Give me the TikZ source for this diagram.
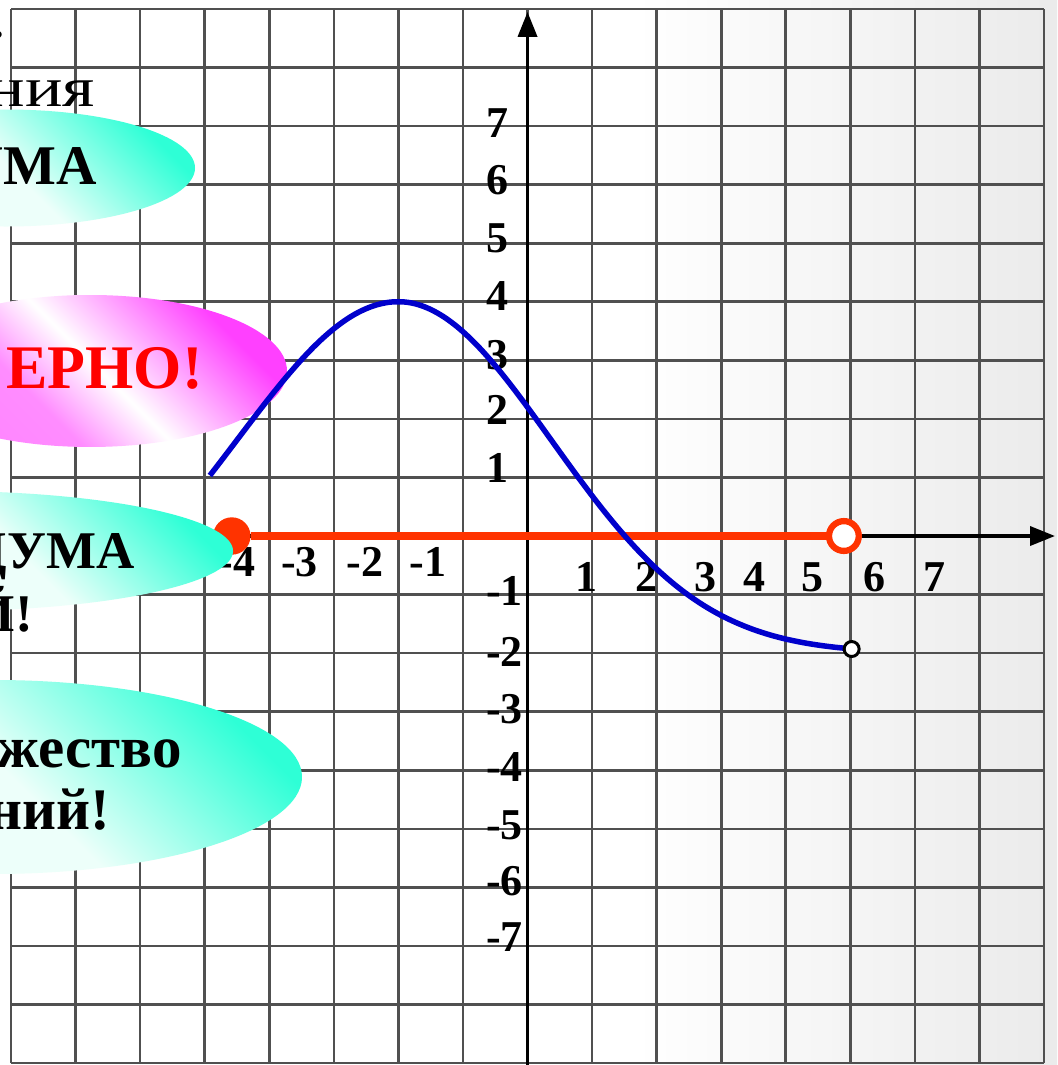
\documentclass[tikz,border=0pt]{standalone}
\usepackage{fontspec}
\setmainfont{Liberation Serif}
\newfontfamily\widefont[FakeStretch=1.25]{Liberation Serif}
\definecolor{gridline}{HTML}{505050}
\definecolor{curve}{HTML}{0000CC}
\definecolor{segment}{HTML}{FF3300}
\definecolor{wrongred}{HTML}{FF0000}
\usepackage{tikz}
\usetikzlibrary{arrows.meta}
\pgfdeclarehorizontalshading{paperfade}{100bp}{rgb(0bp)=(1,1,1); rgb(55bp)=(1,1,1); rgb(75bp)=(0.92,0.92,0.92); rgb(100bp)=(0.92,0.92,0.92)}
\pgfdeclareverticalshading{tealfade}{100bp}{rgb(0bp)=(0.93,1,0.98); rgb(30bp)=(0.93,1,0.98); rgb(70bp)=(0.18,1,0.84); rgb(100bp)=(0.18,1,0.84)}
\pgfdeclareverticalshading{pinkfade}{100bp}{rgb(0bp)=(1,0.5,1); rgb(28bp)=(1,0.55,1); rgb(43bp)=(1,1,1); rgb(70bp)=(1,0.25,1); rgb(100bp)=(1,0.25,1)}

\begin{document}
\begin{tikzpicture}[x=64.56bp,y=58.56bp,>={Triangle[length=25bp,width=19bp]},every node/.style={inner sep=0pt},
  numlbl/.style={font=\fontsize{44bp}{44bp}\selectfont\bfseries},
  blob/.style={font=\fontsize{53bp}{60bp}\selectfont\bfseries,anchor=base east}]
\useasboundingbox (-8.171,-9.033) rectangle (8.202,9.153);
\clip (-8.171,-9.033) rectangle (8.202,9.153);
\shade[shading=paperfade] (-8.171,-9.033) rectangle (8.202,9.153);
\draw[gridline,line width=2.6bp,step={(1,1)}] (-8,-9) grid (8,9);
% axes
\coordinate (ybot) at (0,-9.1);
\coordinate (ytop) at (0,8.95);
\coordinate (xleft) at (-8.2,0);
\coordinate (xright) at (8.17,0);
\draw[->,line width=3.6bp] (ybot) -- (ytop);
\draw[->,line width=3.6bp] (xleft) -- (xright);
% y labels
\node[numlbl,anchor=west] (y7) at (-0.643,7.056) {7};
\node[numlbl,anchor=west] (y6) at (-0.643,6.079) {6};
\node[numlbl,anchor=west] (y5) at (-0.643,5.078) {5};
\node[numlbl,anchor=west] (y4) at (-0.643,4.105) {4};
\node[numlbl,anchor=west] (y3) at (-0.643,3.091) {3};
\node[numlbl,anchor=west] (y2) at (-0.643,2.158) {2};
\node[numlbl,anchor=west] (y1) at (-0.643,1.161) {1};
\node[numlbl,anchor=west] (ym1) at (-0.643,-0.939) {-1};
\node[numlbl,anchor=west] (ym2) at (-0.643,-1.981) {-2};
\node[numlbl,anchor=west] (ym3) at (-0.643,-2.954) {-3};
\node[numlbl,anchor=west] (ym4) at (-0.643,-3.945) {-4};
\node[numlbl,anchor=west] (ym5) at (-0.643,-4.935) {-5};
\node[numlbl,anchor=west] (ym6) at (-0.643,-5.891) {-6};
\node[numlbl,anchor=west] (ym7) at (-0.643,-6.848) {-7};
% x labels
\node[numlbl] (xm4) at (-4.50,-0.44) {-4};
\node[numlbl] (xm3) at (-3.53,-0.44) {-3};
\node[numlbl] (xm2) at (-2.52,-0.44) {-2};
\node[numlbl] (xm1) at (-1.54,-0.44) {-1};
\node[numlbl] (x1) at (0.92,-0.70) {1};
\node[numlbl] (x2) at (1.84,-0.70) {2};
\node[numlbl] (x3) at (2.76,-0.70) {3};
\node[numlbl] (x4) at (3.51,-0.70) {4};
\node[numlbl] (x5) at (4.42,-0.70) {5};
\node[numlbl] (x6) at (5.38,-0.70) {6};
\node[numlbl] (x7) at (6.31,-0.70) {7};
% range segment
\node[circle,fill=segment,minimum size=37.4bp] (lend) at (-4.58,0) {};
\node[circle,draw=segment,fill=white,line width=6.3bp,minimum size=29.8bp] (rend) at (4.90,0) {};
\draw[segment,line width=8bp] (lend) -- (rend);
% answer bubbles
\begin{scope}
\clip (-8.078,6.284) ellipse [x radius=189bp,y radius=58.5bp];
\shade[shading=tealfade,shading angle=-45] (-8.171,5.277) rectangle (-5.150,7.275);
\end{scope}
\begin{scope}
\clip (-6.777,2.818) ellipse [x radius=197bp,y radius=76bp];
\shade[shading=pinkfade,shading angle=-45] (-8.171,1.520) rectangle (-3.721,4.115);
\end{scope}
\begin{scope}
\clip (-9.053,-0.256) ellipse [x radius=290bp,y radius=60bp];
\shade[shading=tealfade,shading angle=-45] (-8.171,-1.281) rectangle (-4.562,0.768);
\end{scope}
\begin{scope}
\clip (-8.279,-4.115) ellipse [x radius=309bp,y radius=97bp];
\shade[shading=tealfade,shading angle=-45] (-8.171,-5.772) rectangle (-3.493,-2.459);
\end{scope}
\node[blob,font=\fontsize{58bp}{60bp}\selectfont] (stop) at (-8.078,8.504) {.};
\node[blob,font=\fontsize{56bp}{60bp}\selectfont\widefont] (nia) at (-6.699,7.326) {ния};
\node[blob,font=\fontsize{56bp}{60bp}\selectfont\bfseries] (uma) at (-6.668,5.994) {УМА};
\node[blob,text=wrongred,font=\fontsize{62bp}{64bp}\selectfont\bfseries] (erno) at (-5.026,2.527) {ЕРНО!};
\node[blob] (duma) at (-6.080,-0.552) {ДУМА};
\node[blob] (yi) at (-7.659,-1.634) {Й!};
\node[blob,font=\fontsize{59bp}{60bp}\selectfont\bfseries] (zhestvo) at (-5.352,-3.950) {жество};
\node[blob,font=\fontsize{59bp}{60bp}\selectfont\bfseries] (niy) at (-6.467,-5.020) {ний!};
% graph
\draw[curve,line width=5.5bp] plot[domain=-4.92:-2,samples=40,smooth] (\x,{-2+6*exp(-(\x+2)*(\x+2)/12.5)})
  -- plot[domain=-2:5.02,samples=70,smooth] (\x,{-2+6*exp(-(\x+2)*(\x+2)/11.2)});
\node[circle,draw=black,fill=white,line width=3bp,minimum size=15bp] (hole) at (5.02,-1.93) {};
\end{tikzpicture}
\end{document}
